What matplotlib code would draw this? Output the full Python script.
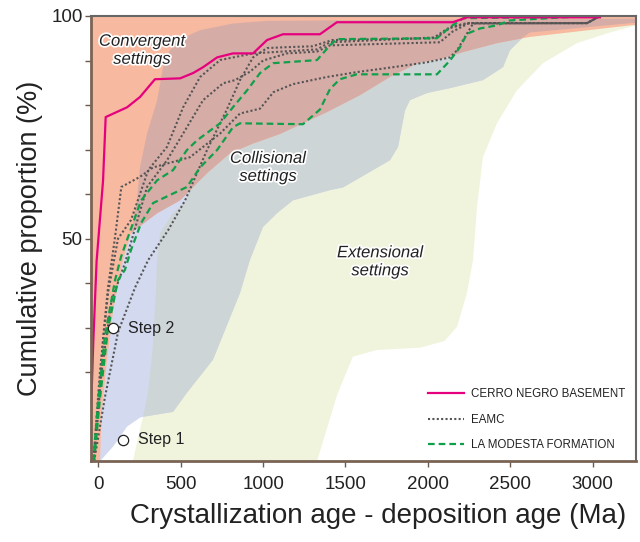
import numpy as np
import matplotlib
matplotlib.use("Agg")
import matplotlib.pyplot as plt
from matplotlib.patches import Polygon
import matplotlib.patheffects as pe

plt.rcParams['font.family'] = ['Liberation Sans', 'DejaVu Sans']

# ---- tectonic setting fields (boundary traces, Ma / %) ----
# extensional field: left edge and right (outer) edge
ext_left_x = [210, 240, 272, 300, 330, 350, 357, 375, 454, 538, 600, 700, 760]
ext_left_y = [0, 5, 10, 15, 25, 38, 45, 51.3, 55.7, 58.6, 70, 90, 100]
ext_right_x = [1327, 1450, 1545, 1691, 1952, 2100, 2177, 2237, 2274, 2298, 2334, 2419, 2540, 2698, 2904, 3104, 3265]
ext_right_y = [0, 15, 23.5, 25, 25.5, 27, 30.2, 37.8, 45.2, 57.1, 68.3, 75.9, 83.3, 89.4, 93.9, 96.3, 97.9]

# collisional field: left edge, lower edge, top edge
col_left_x = [10, 22, 53, 90, 150, 200, 235, 253, 296, 357, 393, 430, 480]
col_left_y = [0, 11.5, 22.7, 33.9, 45.2, 51.3, 58.6, 66, 73.6, 81, 88.5, 92, 94.5]
col_low_x = [10, 90, 175, 253, 272, 454, 538, 696, 860, 920, 999, 1084, 1181, 1406, 1485, 1770,
             1819, 1861, 1891, 1995, 2134, 2334, 2456, 2498, 2577, 2620, 3230, 3265]
col_low_y = [0, 3.3, 7.8, 9.8, 10, 11.1, 15.4, 22.8, 37.8, 45.2, 52.6, 55.7, 58.6, 60.9, 61.5, 67.6,
             70.6, 78.8, 81.1, 82.7, 83.8, 85.6, 88.5, 92.3, 95.2, 96.3, 98.4, 98.5]
col_top_x = [480, 617, 817, 1020, 2000, 3265]
col_top_y = [94.5, 96.8, 98.3, 98.9, 99.2, 99.4]

# convergent field: lower edge
conv_low_x = [10, 22, 53, 90, 150, 200, 357, 497, 660, 800, 942, 1103, 1387, 1587, 1788, 1952,
              2073, 2215, 2419, 2577, 2620, 3230, 3265]
conv_low_y = [0, 11.5, 22.7, 33.9, 45.2, 51.3, 55.7, 58.6, 64.7, 69.2, 71.4, 73.5, 78.4, 82.2, 86.7, 89.6,
              90.3, 91.9, 93.9, 95.0, 95.3, 97.9, 98.0]

# ---- cumulative curves ----
cerro_x = [-60, -45, -30, -10, 29, 45, 175, 253, 344, 497, 576, 636, 721, 817, 939, 1024, 1121,
           1345, 1448, 2152, 2237, 3044]
cerro_y = [0, 10, 27, 45, 63, 77.3, 79.5, 81.8, 85.8, 86.0, 87.2, 88.5, 90.7, 91.6, 91.6, 94.6, 95.9,
           95.9, 98.6, 98.6, 99.7, 99.7]

eamc_x = [
    [-30, 0, 30, 59, 102, 140, 254, 333, 557, 739, 860, 982, 1063, 1181, 1387, 1569, 1788, 1994,
     2134, 2177, 2274, 2966, 3044],
    [-30, 10, 60, 120, 199, 303, 417, 515, 618, 739, 939, 1327, 1406, 2055, 2134, 2250, 2966, 3044],
    [-25, 20, 80, 162, 296, 417, 515, 636, 758, 830, 921, 1000, 1145, 1327, 1406, 2073, 2150, 2250,
     2966, 3044],
    [-25, 41, 120, 223, 303, 424, 527, 660, 779, 860, 939, 1024, 1144, 1300, 1420, 2030, 2134, 2237,
     2966, 3044],
]
eamc_y = [
    [0, 12, 28, 39, 50.4, 61.6, 63.9, 66, 68.3, 73.6, 78.1, 79.2, 82.9, 84.7, 86.3, 87.4, 88.5, 89.6,
     90.7, 92.3, 98.3, 98.4, 100],
    [0, 20, 38, 50, 54.2, 65.4, 70.6, 79.5, 86.3, 90.1, 91.6, 92.5, 94.1, 95.2, 97.3, 98.4, 98.4, 100],
    [0, 20, 36, 44.5, 61.6, 67.6, 73.6, 81.1, 84.9, 85.6, 87.5, 90, 91.6, 92, 93.4, 94.1, 96.5, 98.4,
     98.4, 100],
    [0, 14.5, 29, 39, 45.2, 51.9, 58.6, 69.9, 78.9, 85.6, 90.7, 92.8, 93, 93.2, 94.6, 95.0, 97.5, 98.4,
     98.4, 100],
]

modesta_x = [
    [-30, 0, 40, 102, 138, 181, 260, 357, 454, 538, 600, 739, 817, 903, 982, 1061, 1327, 1406, 1448,
     2055, 2134, 2215, 3044],
    [-25, 10, 60, 120, 162, 199, 260, 333, 435, 538, 618, 721, 817, 860, 1242, 1345, 1406, 1466, 1569,
     2055, 2134, 2195, 2237, 2316, 2419, 2498, 2820, 3044],
]
modesta_y = [
    [0, 14, 28, 40.7, 45.9, 50.4, 58.6, 63.1, 65.4, 69.9, 72.1, 75.9, 79.5, 83.3, 87.2, 89.4, 90.1, 93.4,
     94.8, 95.0, 97.5, 99.5, 99.9],
    [0, 14, 30, 40.7, 43, 47.5, 53.5, 58, 59.8, 61.6, 66, 69.9, 75, 75.9, 75.7, 79, 83.6, 85.8, 86.9,
     86.9, 90, 93, 96, 97.2, 97.9, 99, 99.7, 100],
]

steps_x = [87, 148]
steps_y = [29.9, 4.8]
steps_lbl = ["Step 2", "Step 1"]

XMIN, XMAX = -44, 3263

fig = plt.figure(figsize=(6.4, 5.42), dpi=100)
ax = fig.add_axes([0.1422, 0.1489, 0.8516, 0.8216])
ax.set_xlim(XMIN, XMAX)
ax.set_ylim(0, 100)

# polygons
ext_poly = list(zip(ext_left_x[::-1], ext_left_y[::-1])) + list(zip(ext_right_x, ext_right_y)) + \
    [(XMAX + 50, 100.5), (760, 100.5)]
col_poly = list(zip(col_low_x, col_low_y)) + [(XMAX + 50, 98.5), (XMAX + 50, 99.4)] + \
    list(zip(col_top_x[::-1], col_top_y[::-1])) + list(zip(col_left_x[::-1], col_left_y[::-1]))
conv_poly = [(XMIN - 50, 0)] + list(zip(conv_low_x, conv_low_y)) + \
    [(XMAX + 50, 98.0), (XMAX + 50, 101), (XMIN - 50, 101)]

ext_patch = Polygon(ext_poly, closed=True, fc='#f0f4dc', ec='none', zorder=1)
ax.add_patch(ext_patch)
ax.add_patch(Polygon(col_poly, closed=True, fc='#d3d9ee', ec='none', zorder=2))
p = Polygon(col_poly, closed=True, fc='#ced5d7', ec='none', zorder=3)
ax.add_patch(p)
p.set_clip_path(ext_patch)
conv_patch = Polygon(conv_poly, closed=True, fc='#f7b9a0', ec='none', zorder=4)
ax.add_patch(conv_patch)
p = Polygon(col_poly, closed=True, fc='#d6aca6', ec='none', zorder=5)
ax.add_patch(p)
p.set_clip_path(conv_patch)

# curves
ax.plot(cerro_x, cerro_y, color='#e6007e', lw=1.6, zorder=8, label='CERRO NEGRO BASEMENT')
for i in range(len(eamc_x)):
    ax.plot(eamc_x[i], eamc_y[i], color='#555555', lw=1.5, ls=(0, (1, 1.1)), zorder=6,
            label='EAMC' if i == 0 else None)
for i in range(len(modesta_x)):
    ax.plot(modesta_x[i], modesta_y[i], color='#10a04a', lw=1.6, ls=(0, (3, 1.8)), zorder=7,
            label='LA MODESTA FORMATION' if i == 0 else None)

ax.scatter(steps_x, steps_y, s=55, facecolor='white', edgecolor='#222222', lw=0.9, zorder=9)
for sx, sy, lbl in zip(steps_x, steps_y, steps_lbl):
    ax.annotate(lbl, (sx, sy), xytext=(11, 0), textcoords='offset points', va='center',
                fontsize=11.5, color='#222222', zorder=9)

halo = [pe.withStroke(linewidth=2.5, foreground='white')]
ax.text(265, 92.3, "Convergent\nsettings", style='italic', fontsize=12, ha='center', va='center',
        linespacing=1.25, color='#222222', path_effects=halo, zorder=10)
ax.text(1030, 66, "Collisional\nsettings", style='italic', fontsize=12, ha='center', va='center',
        linespacing=1.25, color='#222222', path_effects=halo, zorder=10)
ax.text(1710, 44.8, "Extensional\nsettings", style='italic', fontsize=12, ha='center', va='center',
        linespacing=1.25, color='#222222', path_effects=halo, zorder=10)

leg = ax.legend(loc='lower right', frameon=False, fontsize=8.3, handlelength=3.2, handletextpad=0.6,
                labelspacing=1.15, bbox_to_anchor=(1.0, 0.0))
for t in leg.get_texts():
    t.set_color('#222222')

ax.set_xticks(np.arange(0, 3001, 500))
ax.set_yticks(np.arange(20, 101, 10))
ax.set_yticklabels(['50' if v == 50 else '100' if v == 100 else '' for v in range(20, 101, 10)])
ax.tick_params(direction='out', length=4.5, width=1, colors='#6b5a4c', labelsize=13.5,
               labelcolor='#222222')
ax.tick_params(axis='x', pad=6)
ax.tick_params(axis='y', pad=1.5)
for side in ['left', 'bottom']:
    ax.spines[side].set_color('#7a6454')
    ax.spines[side].set_linewidth(2)
for side in ['top', 'right']:
    ax.spines[side].set_color('#666666')
    ax.spines[side].set_linewidth(1.5)
for s in ax.spines.values():
    s.set_zorder(11)

ax.set_xlabel("Crystallization age - deposition age (Ma)", fontsize=20, color='#222222', labelpad=7)
ax.xaxis.label.set_x(0.527)
ax.set_ylabel("Cumulative proportion (%)", fontsize=19.5, color='#222222', labelpad=6)

fig.savefig("out.png", dpi=100)
